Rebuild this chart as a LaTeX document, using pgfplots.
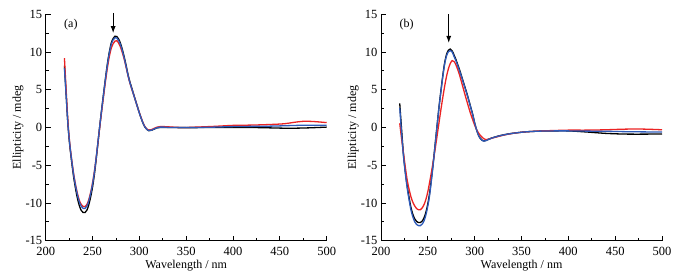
\documentclass[border=0pt]{standalone}
\usepackage{fontspec}
\setmainfont{Liberation Serif}
\usepackage{pgfplots}
\pgfplotsset{compat=1.18}
\usetikzlibrary{arrows.meta}
\definecolor{cdred}{RGB}{235,35,35}
\definecolor{cdblue}{RGB}{45,90,185}
\pgfplotsset{cdstyle/.style={
 scale only axis, width=281pt, height=226.4pt,
 xmin=200, xmax=500, ymin=-15, ymax=15,
 axis x line*=bottom, axis y line*=left,
 axis line style={line width=0.9pt,-},
 xtick={200,250,...,500}, ytick={-15,-10,...,15},
 minor x tick num=1, minor y tick num=1,
 tick align=inside,
 major tick length=5pt, minor tick length=3pt,
 every tick/.style={line width=0.8pt, black},
 tick label style={font=\fontsize{12.5}{14}\selectfont},
 xticklabel style={yshift=-2.5pt},
 /pgf/number format/assume math mode=true,
 label style={font=\fontsize{12}{14}\selectfont},
 xlabel={Wavelength / nm}, ylabel={Ellipticity / mdeg},
 xlabel style={at={(axis description cs:0.5,-0.11)},anchor=center},
 ylabel style={at={(axis description cs:-0.0986,0.5)},anchor=center},
 clip=false,
 every axis plot/.append style={line width=1.3pt, smooth},
}}
\begin{document}
\begin{tikzpicture}
\useasboundingbox (0,0) rectangle (696pt,278pt);
\begin{axis}[cdstyle, at={(45.7pt,37.3pt)}, anchor=south west]
\addplot[black] coordinates {
(220,8.2)(221,6.1)(222,4.0)(223,1.85)(224,0.0)(225,-1.5)(226,-2.75)(228,-4.85)(230,-6.7)(232,-8.2)(234,-9.45)(236,-10.4)(238,-11.0)(240,-11.27)(242,-11.27)(244,-10.95)(246,-10.25)(248,-9.2)(250,-7.9)(252,-6.2)(254,-4.1)(256,-1.8)(258,0.5)(260,2.65)(262,4.7)(264,6.7)(266,8.55)(268,10.05)(270,11.2)(272,11.8)(274,12.1)(276,12.05)(278,11.7)(280,11.1)(282,10.25)(284,9.25)(286,8.15)(288,6.95)(290,6.0)(292,5.2)(294,4.35)(296,3.55)(298,2.75)(300,1.95)(302,1.2)(304,0.55)(306,0.05)(308,-0.25)(310,-0.42)(313,-0.37)(316,-0.2)(319,-0.05)(322,0.0)(330,0.0)(350,-0.02)(380,0.0)(400,0.0)(420,0.0)(440,-0.05)(460,-0.1)(480,-0.05)(500,0.05)};
\addplot[cdred] coordinates {
(220,9.2)(221,6.9)(222,4.6)(223,2.3)(224,0.3)(225,-1.2)(226,-2.5)(228,-4.5)(230,-6.25)(232,-7.65)(234,-8.8)(236,-9.7)(238,-10.2)(240,-10.48)(242,-10.48)(244,-10.2)(246,-9.55)(248,-8.6)(250,-7.35)(252,-5.8)(254,-3.9)(256,-1.75)(258,0.35)(260,2.4)(262,4.35)(264,6.3)(266,8.0)(268,9.45)(270,10.5)(272,11.1)(274,11.45)(276,11.5)(278,11.15)(280,10.6)(282,9.85)(284,8.95)(286,7.9)(288,6.8)(290,5.85)(292,5.05)(294,4.3)(296,3.5)(298,2.7)(300,1.95)(302,1.25)(304,0.6)(306,0.1)(308,-0.2)(310,-0.33)(313,-0.28)(316,-0.1)(319,0.05)(322,0.12)(326,0.12)(332,0.08)(340,0.02)(350,0.0)(360,0.05)(380,0.15)(400,0.28)(420,0.32)(440,0.4)(455,0.5)(465,0.68)(475,0.82)(485,0.8)(500,0.65)};
\addplot[cdblue] coordinates {
(220,7.85)(221,5.9)(222,3.9)(223,1.8)(224,0.0)(225,-1.4)(226,-2.6)(228,-4.6)(230,-6.4)(232,-7.8)(234,-9.0)(236,-9.9)(238,-10.45)(240,-10.72)(242,-10.72)(244,-10.4)(246,-9.75)(248,-8.75)(250,-7.5)(252,-5.9)(254,-3.9)(256,-1.7)(258,0.5)(260,2.6)(262,4.6)(264,6.6)(266,8.4)(268,9.9)(270,11.0)(272,11.6)(274,11.9)(276,11.85)(278,11.5)(280,10.9)(282,10.1)(284,9.1)(286,8.0)(288,6.85)(290,5.9)(292,5.1)(294,4.3)(296,3.5)(298,2.7)(300,1.9)(302,1.2)(304,0.55)(306,0.05)(308,-0.25)(310,-0.4)(313,-0.35)(316,-0.18)(319,-0.02)(322,0.05)(326,0.05)(332,0.0)(340,0.0)(360,0.0)(380,0.05)(400,0.12)(420,0.15)(440,0.18)(460,0.25)(475,0.3)(490,0.3)(500,0.3)};
\draw[-{Latex[length=7pt,width=5pt]}, line width=1pt] (axis cs:272,15.2) -- (axis cs:272,12.5);
\node[anchor=west, font=\fontsize{12}{14}\selectfont] at (axis cs:216,13.6) {(a)};
\end{axis}
\begin{axis}[cdstyle, at={(381pt,37.3pt)}, anchor=south west]
\addplot[black] coordinates {
(220,3.2)(222,-0.3)(224,-3.6)(226,-5.9)(228,-7.8)(230,-9.3)(232,-10.6)(234,-11.5)(236,-12.1)(238,-12.45)(240,-12.6)(242,-12.6)(244,-12.4)(246,-11.95)(248,-11.2)(250,-10.1)(252,-8.6)(254,-6.6)(256,-4.4)(258,-2.0)(260,0.4)(262,2.8)(264,4.9)(266,6.9)(268,8.6)(270,9.7)(272,10.25)(274,10.4)(276,10.15)(278,9.6)(280,9.0)(282,8.3)(284,7.6)(286,6.8)(288,6.0)(290,5.2)(292,4.4)(294,3.5)(296,2.6)(298,1.7)(300,0.6)(302,-0.3)(304,-1.0)(306,-1.45)(308,-1.7)(310,-1.78)(312,-1.72)(315,-1.55)(318,-1.4)(322,-1.25)(328,-1.05)(336,-0.85)(345,-0.7)(355,-0.57)(370,-0.48)(385,-0.45)(400,-0.45)(420,-0.6)(440,-0.78)(460,-0.87)(480,-0.88)(500,-0.85)};
\addplot[cdred] coordinates {
(220,0.56)(222,-1.5)(224,-3.4)(226,-5.3)(228,-7.0)(230,-8.2)(232,-9.2)(234,-9.9)(236,-10.4)(238,-10.75)(240,-10.9)(242,-10.9)(244,-10.65)(246,-10.2)(248,-9.5)(250,-8.5)(252,-7.2)(254,-5.8)(256,-4.3)(258,-2.7)(260,-1.0)(262,0.7)(264,2.4)(266,4.0)(268,5.5)(270,6.8)(272,7.8)(274,8.5)(276,8.86)(278,8.75)(280,8.3)(282,7.65)(284,6.9)(286,6.0)(288,5.1)(290,4.2)(292,3.35)(294,2.5)(296,1.7)(298,1.0)(300,0.3)(302,-0.25)(304,-0.7)(306,-1.05)(308,-1.3)(310,-1.5)(312,-1.6)(315,-1.55)(318,-1.42)(322,-1.3)(328,-1.1)(336,-0.88)(345,-0.7)(355,-0.57)(370,-0.46)(385,-0.4)(400,-0.35)(420,-0.35)(440,-0.3)(460,-0.22)(475,-0.2)(490,-0.25)(500,-0.3)};
\addplot[cdblue] coordinates {
(220,2.6)(222,-0.8)(224,-3.8)(226,-6.1)(228,-8.05)(230,-9.6)(232,-10.95)(234,-11.85)(236,-12.5)(238,-12.85)(240,-13.0)(242,-13.0)(244,-12.8)(246,-12.35)(248,-11.55)(250,-10.4)(252,-8.9)(254,-6.8)(256,-4.55)(258,-2.05)(260,0.4)(262,2.75)(264,4.8)(266,6.75)(268,8.45)(270,9.5)(272,10.05)(274,10.2)(276,10.0)(278,9.4)(280,8.85)(282,8.15)(284,7.45)(286,6.7)(288,5.9)(290,5.1)(292,4.3)(294,3.45)(296,2.55)(298,1.65)(300,0.6)(302,-0.3)(304,-1.0)(306,-1.45)(308,-1.72)(310,-1.8)(312,-1.74)(315,-1.57)(318,-1.42)(322,-1.26)(328,-1.06)(336,-0.86)(345,-0.7)(355,-0.57)(370,-0.48)(385,-0.45)(400,-0.45)(420,-0.48)(440,-0.5)(460,-0.55)(480,-0.58)(500,-0.6)};
\draw[-{Latex[length=7pt,width=5pt]}, line width=1pt] (axis cs:272.3,15.0) -- (axis cs:272.3,11.2);
\node[anchor=west, font=\fontsize{12}{14}\selectfont] at (axis cs:216,13.6) {(b)};
\end{axis}
\end{tikzpicture}
\end{document}
